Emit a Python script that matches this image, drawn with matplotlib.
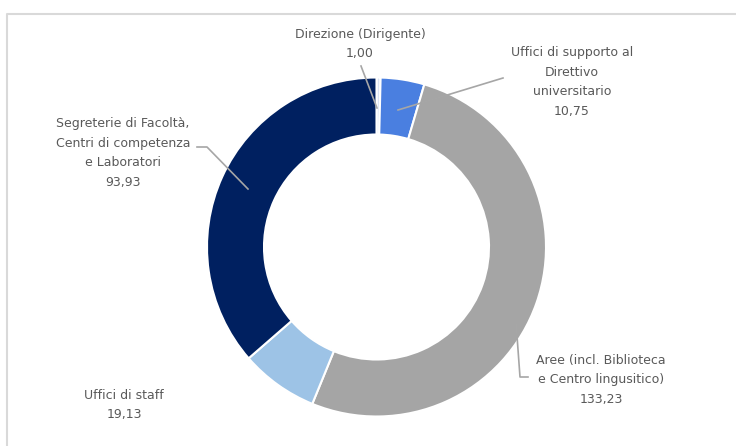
import matplotlib.pyplot as plt

# data
categories = ['Direzione (Dirigente)',
              'Uffici di supporto al\nDirettivo\nuniversitario',
              'Aree (incl. Biblioteca\ne Centro lingusitico)',
              'Uffici di staff',
              'Segreterie di Facoltà,\nCentri di competenza\ne Laboratori']
values = [1.00, 10.75, 133.23, 19.13, 93.93]
colors = ['#DAE3F3', '#4A7FE0', '#A5A5A5', '#9DC3E6', '#002060']

# label placement (pixel coords, y from top)
label_pos = [(360, 44), (572, 82), (601, 380), (124, 405), (123, 153)]
leaders = [
    [(361, 66), (377, 108)],
    [(398, 110), (503, 78)],
    [(516, 322), (520, 377), (528, 377)],
    [],
    [(197, 147), (207, 147), (248, 189)],
]

W, H = 736, 446
fig = plt.figure(figsize=(W / 100, H / 100), dpi=100)
ax = fig.add_axes([0, 0, 1, 1])

cx, cy, R = 376.5, 247, 169.5
# y axis is inverted below, so start at -90 and go "counterclock" to look clockwise from top
ax.pie(values, colors=colors, startangle=-90, counterclock=True,
       radius=R, center=(cx, cy),
       wedgeprops=dict(width=57, edgecolor='white', linewidth=1.5))

ax.set_xlim(0, W)
ax.set_ylim(H, 0)
ax.set_aspect('equal')
ax.axis('off')

for cat, v, (lx, ly), ld in zip(categories, values, label_pos, leaders):
    txt = cat + '\n' + f'{v:.2f}'.replace('.', ',')
    ax.text(lx, ly, txt, ha='center', va='center', fontsize=9,
            color='#595959', linespacing=1.65, family='DejaVu Sans')
    if ld:
        xs, ys = zip(*ld)
        ax.plot(xs, ys, color='#A6A6A6', lw=1.2)

# outer frame
ax.plot([7, 7, W], [H, 13.5, 13.5], color='#D9D9D9', lw=1.5, clip_on=False)

fig.savefig('out.png', dpi=100)
